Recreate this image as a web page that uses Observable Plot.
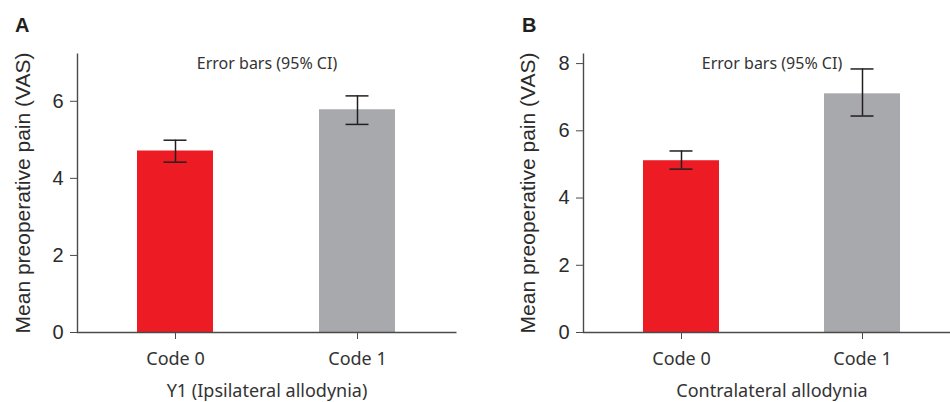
<!DOCTYPE html>
<html>
<head>
<meta charset="utf-8">
<script src="https://cdn.jsdelivr.net/npm/d3@7"></script>
<script src="https://cdn.jsdelivr.net/npm/@observablehq/plot@0.6"></script>
<style>
  html, body { margin: 0; padding: 0; background: #fff; }
  #wrap { position: relative; width: 950px; height: 402px; overflow: hidden; background: #fff; }
  .panel { position: absolute; top: 0; }
  .panel svg { max-width: none !important; display: block; }
  .tag { position: absolute; z-index: 5; font-family: "Liberation Sans", Arial, sans-serif; font-weight: bold; font-size: 20px; line-height: 20px; color: #231f20; }
</style>
</head>
<body>
<div id="wrap">
  <div id="pa" class="panel" style="left:0px; width:475px;"></div>
  <div id="pb" class="panel" style="left:475px; width:485px;"></div>
  <div class="tag" style="left:15px; top:15px;">A</div>
  <div class="tag" style="left:522px; top:15px;">B</div>
</div>
<script>
// ---- data ----
const categories = ["Code 0", "Code 1"];
const barColors = ["#ED1C24", "#A7A9AC"];

const meansA = [4.71, 5.78];
const lowA   = [4.42, 5.40];
const highA  = [4.99, 6.14];
const yTicksA = [0, 2, 4, 6];
const yMaxA = 7.24;
const xLabelA = "Y1 (Ipsilateral allodynia)";

const meansB = [5.11, 7.10];
const lowB   = [4.86, 6.44];
const highB  = [5.40, 7.84];
const yTicksB = [0, 2, 4, 6, 8];
const yMaxB = 8.3;
const xLabelB = "Contralateral allodynia";

const yLabel = "Mean preoperative pain (VAS)";
const noteText = "Error bars (95% CI)";

function panel({means, low, high, yTicks, yMax, xLabel, width, marginLeft, marginRight, yLabelDx}) {
  const rows = categories.map((c, i) => ({cat: c, mean: means[i], low: low[i], high: high[i]}));
  const height = 402, marginTop = 53, marginBottom = 70;
  const W = width - marginLeft - marginRight;
  const H = height - marginTop - marginBottom;
  const axisColor = "#4a4a4a";
  return Plot.plot({
    width, height, marginTop, marginBottom, marginLeft, marginRight,
    style: {background: "#fff", color: "#2b2b2b", overflow: "visible"},
    x: {domain: categories, paddingInner: 0.582, paddingOuter: 0.332},
    y: {domain: [0, yMax]},
    color: {domain: categories, range: barColors},
    marks: [
      Plot.barY(rows, {x: "cat", y: "mean", fill: "cat"}),
      Plot.ruleX(rows, {x: "cat", y1: "low", y2: "high", stroke: "#231f20", strokeWidth: 1.5}),
      Plot.tickY(rows, {x: "cat", y: "high", stroke: "#231f20", strokeWidth: 1.5, insetLeft: 26.5, insetRight: 26.5}),
      Plot.tickY(rows, {x: "cat", y: "low", stroke: "#231f20", strokeWidth: 1.5, insetLeft: 26.5, insetRight: 26.5}),
      Plot.frame({stroke: axisColor, strokeWidth: 1.4, strokeDasharray: `0 ${W + H} ${W + H + 2}`}),
      Plot.axisY({ticks: yTicks, tickSize: 7, tickPadding: 7, fontSize: 20, fontFamily: "Liberation Sans, Arial, sans-serif", stroke: axisColor, fill: "#2b2b2b", label: null}),
      Plot.axisX({tickSize: 7, tickPadding: 13, fontSize: 18, fontFamily: "Noto Sans, sans-serif", stroke: axisColor, fill: "#333", label: null}),
      Plot.text([yLabel], {frameAnchor: "left", dx: yLabelDx, rotate: -90, textAnchor: "middle", lineAnchor: "middle", fontSize: 21, fontFamily: "Liberation Sans, Arial, sans-serif", fill: "#2b2b2b"}),
      Plot.text([noteText], {frameAnchor: "top", dy: 10, lineAnchor: "middle", fontSize: 16, fontFamily: "Noto Sans, sans-serif", fill: "#333"}),
      Plot.text([xLabel], {frameAnchor: "bottom", dy: 59, lineAnchor: "middle", fontSize: 18, fontFamily: "Noto Sans, sans-serif", fill: "#333"})
    ]
  });
}

document.getElementById("pa").append(panel({
  means: meansA, low: lowA, high: highA, yTicks: yTicksA, yMax: yMaxA, xLabel: xLabelA,
  width: 475, marginLeft: 77, marginRight: 19, yLabelDx: -54
}));
document.getElementById("pb").append(panel({
  means: meansB, low: lowB, high: highB, yTicks: yTicksB, yMax: yMaxB, xLabel: xLabelB,
  width: 485, marginLeft: 108, marginRight: 0, yLabelDx: -55
}));
</script>
</body>
</html>
